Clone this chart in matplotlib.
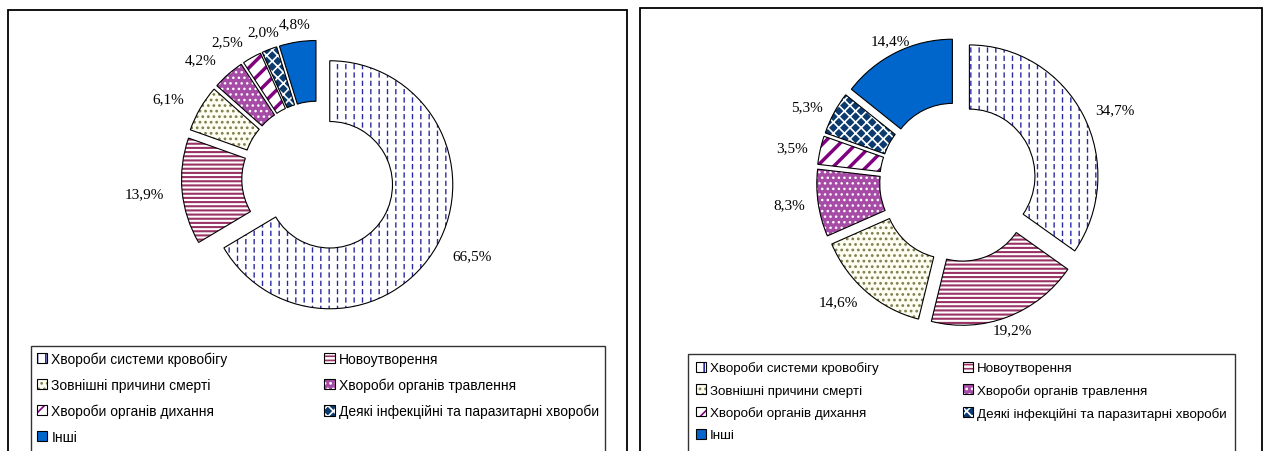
import math
import matplotlib.pyplot as plt
from matplotlib.patches import Rectangle, Wedge

plt.rcParams['font.family'] = ['Liberation Serif', 'DejaVu Serif']
plt.rcParams['hatch.linewidth'] = 1.2

# ---- data ----
categories = ['Хвороби системи кровобігу', 'Новоутворення', 'Зовнішні причини смерті',
              'Хвороби органів травлення', 'Хвороби органів дихання',
              'Деякі інфекційні та паразитарні хвороби', 'Інші']
left_values = [66.5, 13.9, 6.1, 4.2, 2.5, 2.0, 4.8]
right_values = [34.7, 19.2, 14.6, 8.3, 3.5, 5.3, 14.4]

# ---- styles ----
face_colors = ['white', 'white', '#fdfdf2', '#a64ca6', 'white', '#0b3a6e', '#0066cc']
hatch_colors = ['#2a2aa0', '#993366', '#7f7f50', 'white', '#800080', 'white', '#0066cc']
hatches = ['||', '----', '...', '...', '//', 'xxx', '']
hatch_lw = [1.0, 1.5, 1.2, 1.0, 2.5, 1.2, 1.0]

W, H = 1263, 452
fig = plt.figure(figsize=(W / 100, H / 100), dpi=100)


def pct(v):
    return f'{v:.1f}%'.replace('.', ',')


def donut(cx, cy, rx, ry, values, explode, label_dist, L=1.5):
    # slightly non-square box: the original picture is a bit stretched vertically
    sx, sy = rx * L, ry * L
    ax = fig.add_axes([(cx - sx) / W, 1 - (cy + sy) / H, 2 * sx / W, 2 * sy / H])
    expl = [explode] * len(values)
    wedges, texts = ax.pie(values, startangle=90, counterclock=False, explode=expl,
                           labels=[pct(v) for v in values], labeldistance=label_dist,
                           wedgeprops=dict(width=0.49, linewidth=0),
                           textprops=dict(fontsize=11))
    for w, fc, hc, h, lw in zip(wedges, face_colors, hatch_colors, hatches, hatch_lw):
        w.set_facecolor(fc)
        w.set_edgecolor(hc)
        w.set_hatch(h)
        if hasattr(w, 'set_hatch_linewidth'):
            w.set_hatch_linewidth(lw)
    # white horizontal hatch over the blue verticals -> dashed look
    w0 = wedges[0]
    cut = Wedge(w0.center, w0.r, w0.theta1, w0.theta2, width=w0.width,
                facecolor='none', edgecolor='white', hatch='--', linewidth=0)
    if hasattr(cut, 'set_hatch_linewidth'):
        cut.set_hatch_linewidth(2.2)
    ax.add_patch(cut)
    outlines, _ = ax.pie(values, startangle=90, counterclock=False, explode=expl,
                         wedgeprops=dict(width=0.49, facecolor='none',
                                         edgecolor='black', linewidth=0.8))
    for w, t in zip(wedges, texts):
        a = math.radians((w.theta1 + w.theta2) / 2)
        dx = math.cos(a)
        t.set_ha('center' if abs(dx) < 0.45 else ('left' if dx > 0 else 'right'))
        t.set_va('center')
    ax.set_xlim(-L, L)
    ax.set_ylim(-L, L)
    ax.set_aspect('auto')
    ax.axis('off')
    return [(w, o) for w, o in zip(wedges, outlines)]


h_left = donut(318, 179, 123, 124, left_values, 0.11, 1.15)
h_right = donut(958, 183, 128.5, 131, right_values, 0.1, 1.1)

# legends, filled row by row like the original
order = [0, 2, 4, 6, 1, 3, 5]


def add_legend(handles, x0, x1, top, size, spacing, pad):
    fig.legend([handles[i] for i in order], [categories[i] for i in order], ncol=2,
               mode='expand', loc='upper left',
               bbox_to_anchor=(x0 / W, 1 - top / H, (x1 - x0) / W, 0.001),
               bbox_transform=fig.transFigure,
               prop=dict(family='Liberation Sans', size=size), frameon=False,
               handlelength=0.75, handleheight=0.75, handletextpad=0.3,
               labelspacing=spacing, borderaxespad=0, borderpad=pad)
    # box runs past the bottom edge, as in the cropped original
    fig.patches.append(Rectangle((x0 / W, -0.1), (x1 - x0) / W, 0.1 + 1 - top / H,
                                 transform=fig.transFigure, fill=False,
                                 edgecolor='#333333', linewidth=1.0))


add_legend(h_left, 31, 605, 347, 10.0, 0.85, 0.42)
add_legend(h_right, 688, 1235, 355, 9.6, 0.72, 0.6)

# panel frames
for x0, x1, y0 in [(8, 627, 11), (640, 1262, 9)]:
    fig.patches.append(Rectangle((x0 / W, -0.1), (x1 - x0) / W, 1.1 - y0 / H,
                                 transform=fig.transFigure, fill=False,
                                 edgecolor='black', linewidth=1.3))

fig.savefig('out.png', dpi=100)
